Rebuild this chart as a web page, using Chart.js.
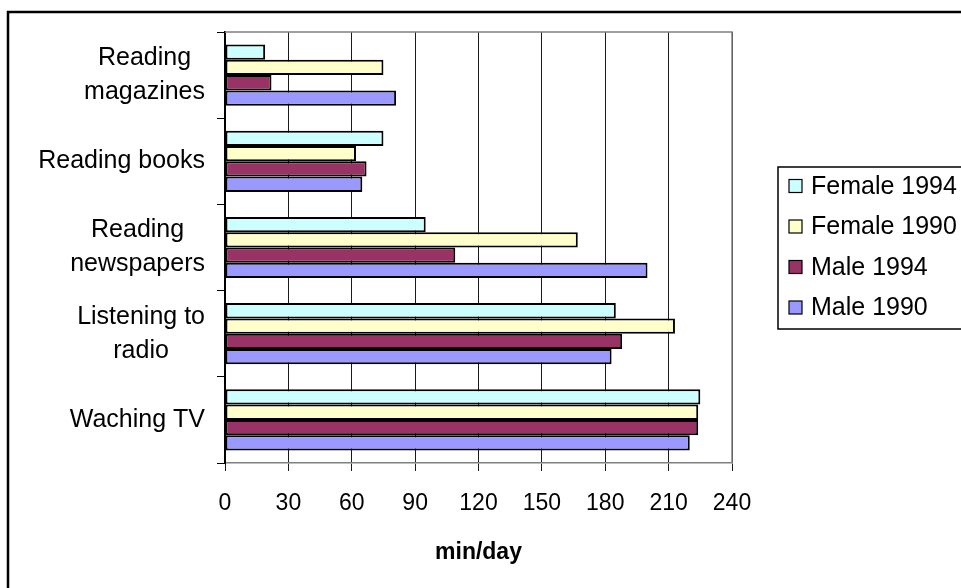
<!DOCTYPE html>
<html>
<head>
<meta charset="utf-8">
<script src="https://cdn.jsdelivr.net/npm/chart.js@4/dist/chart.umd.min.js"></script>
<style>
  html, body { margin: 0; padding: 0; background: #fff; }
  #wrap { width: 961px; height: 588px; position: relative; }
</style>
</head>
<body>
<div id="wrap"><canvas id="chart"></canvas></div>
<script>
// activities, top to bottom
const categories = [
    ['Reading', 'magazines'],
    'Reading books',
    ['Reading', 'newspapers'],
    ['Listening to', 'radio'],
    'Waching TV'
];

// minutes per day
const female1994 = [19, 75, 95, 185, 225];
const female1990 = [75, 62, 167, 213, 224];
const male1994 = [22, 67, 109, 188, 224];
const male1990 = [81, 65, 200, 183, 220];

const xTicks = [0, 30, 60, 90, 120, 150, 180, 210, 240];

const FONT = '"Liberation Sans", Arial, sans-serif';

// outer frame, plot border, category labels and the boxed legend
const decorations = {
    id: 'decorations',
    beforeDraw(chart) {
        const ctx = chart.ctx;
        ctx.save();
        ctx.strokeStyle = '#000';
        ctx.lineWidth = 2.5;
        ctx.beginPath();
        ctx.moveTo(8, 600);
        ctx.lineTo(8, 12);
        ctx.lineTo(980, 12);
        ctx.stroke();
        ctx.restore();
    },
    afterDraw(chart) {
        const ctx = chart.ctx;
        const a = chart.chartArea;
        ctx.save();

        // grey top and right edge of the plot
        ctx.strokeStyle = '#808080';
        ctx.lineWidth = 1.5;
        ctx.beginPath();
        ctx.moveTo(a.left, a.top);
        ctx.lineTo(a.right, a.top);
        ctx.lineTo(a.right, a.bottom);
        ctx.stroke();

        // category labels, each line centred within its block
        const y = chart.scales.y;
        ctx.font = '25px ' + FONT;
        ctx.fillStyle = '#000';
        ctx.textAlign = 'center';
        ctx.textBaseline = 'middle';
        chart.data.labels.forEach((lab, i) => {
            const lines = [].concat(lab);
            const w = Math.max(...lines.map(l => ctx.measureText(l).width));
            const cx = y.right - 20 - w / 2;
            const cy = y.getPixelForValue(i);
            lines.forEach((l, k) => {
                ctx.fillText(l, cx, cy + (k - (lines.length - 1) / 2) * 34);
            });
        });

        // legend
        ctx.font = '25px ' + FONT;
        ctx.strokeStyle = '#000';
        ctx.lineWidth = 1.5;
        ctx.strokeRect(778, 167, 220, 162);
        ctx.textAlign = 'left';
        chart.data.datasets.forEach((ds, i) => {
            const cy = 186 + i * 40.5;
            ctx.fillStyle = ds.backgroundColor;
            ctx.fillRect(789, cy - 6.5, 13, 13);
            ctx.lineWidth = 1.2;
            ctx.strokeRect(789, cy - 6.5, 13, 13);
            ctx.fillStyle = '#000';
            ctx.fillText(ds.label, 811, cy + 1);
        });
        ctx.restore();
    }
};

const ctx = document.getElementById('chart').getContext('2d');

new Chart(ctx, {
    type: 'bar',
    data: {
        labels: categories,
        datasets: [
            { label: 'Female 1994', data: female1994, backgroundColor: '#CCFFFF' },
            { label: 'Female 1990', data: female1990, backgroundColor: '#FFFFCC' },
            { label: 'Male 1994', data: male1994, backgroundColor: '#993366' },
            { label: 'Male 1990', data: male1990, backgroundColor: '#9999FF' }
        ]
    },
    options: {
        indexAxis: 'y',
        responsive: true,
        maintainAspectRatio: false,
        animation: false,
        layout: { padding: { left: 0, top: 32, right: 229, bottom: 0 } },
        datasets: {
            bar: {
                borderColor: '#000',
                borderWidth: 2,
                borderSkipped: false,
                categoryPercentage: 0.71,
                barPercentage: 1.0
            }
        },
        plugins: {
            legend: { display: false },
            tooltip: { enabled: false }
        },
        scales: {
            x: {
                min: 0,
                max: 240,
                afterBuildTicks: scale => {
                    scale.ticks = xTicks.map(v => ({ value: v }));
                },
                afterFit: scale => { scale.height = 125; },
                grid: {
                    color: '#1a1a1a',
                    lineWidth: 1,
                    tickLength: 8
                },
                border: { color: '#808080', width: 1.5 },
                ticks: {
                    color: '#000',
                    font: { family: FONT, size: 23 },
                    padding: 19
                },
                title: {
                    display: true,
                    text: 'min/day',
                    color: '#000',
                    font: { family: FONT, size: 23, weight: 'bold' },
                    padding: { top: 4, bottom: 22 }
                }
            },
            y: {
                afterFit: scale => { scale.width = 225; },
                grid: {
                    drawOnChartArea: false,
                    color: '#000',
                    tickLength: 8
                },
                border: { color: '#000', width: 2 },
                ticks: { display: false }
            }
        }
    },
    plugins: [decorations]
});
</script>
</body>
</html>
